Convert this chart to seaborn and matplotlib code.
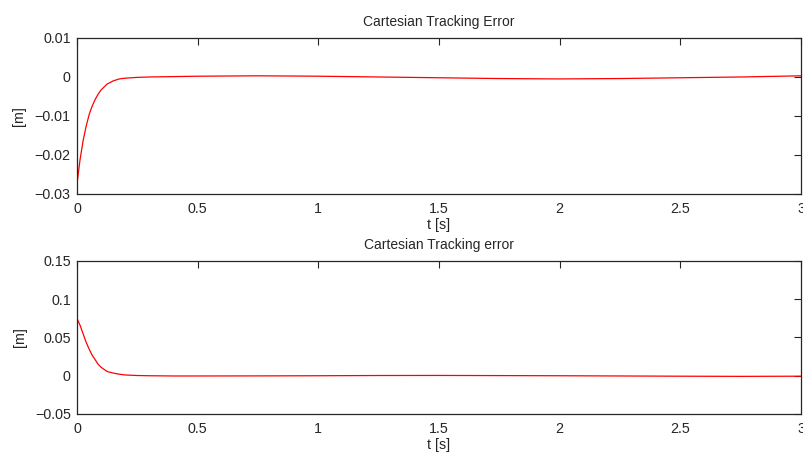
import matplotlib
matplotlib.use("Agg")
import matplotlib.pyplot as plt
import seaborn as sns
import pandas as pd

# time samples [s]
t = [0, 0.0125, 0.025, 0.0375, 0.05, 0.0625, 0.075, 0.0875, 0.1, 0.125, 0.15,
     0.175, 0.2, 0.25, 0.3, 0.4, 0.5, 0.75, 1.0, 1.25, 1.5, 1.75, 2.0, 2.25,
     2.5, 2.75, 3.0]

# tracking error, first plot [m]
err_top = [-0.0273, -0.0212, -0.0164, -0.0127, -0.0097, -0.0075, -0.0058,
           -0.0044, -0.0033, -0.0018, -0.0010, -0.0005, -0.0003, -0.0001,
           0.0, 0.0001, 0.0002, 0.0003, 0.0002, 0.0, -0.0002, -0.0004,
           -0.0005, -0.0004, -0.0002, 0.0, 0.0003]

# tracking error, second plot [m]
err_bot = [0.075, 0.066, 0.055, 0.044, 0.035, 0.027, 0.021, 0.015, 0.011,
           0.0055, 0.0035, 0.002, 0.001, 0.0003, 0.0, -0.0003, -0.0003,
           -0.0002, 0.0, 0.0003, 0.0004, 0.0002, 0.0, -0.0003, -0.0006,
           -0.0008, -0.0006]

top_yticks = [-0.03, -0.02, -0.01, 0, 0.01]
bot_yticks = [-0.05, 0, 0.05, 0.1, 0.15]
xticks = [0, 0.5, 1, 1.5, 2, 2.5, 3]

sns.set_style("white")
plt.rcParams['font.family'] = ['Liberation Sans', 'DejaVu Sans']
plt.rcParams['axes.unicode_minus'] = True

df = pd.DataFrame({"t": t, "top": err_top, "bot": err_bot})

fig = plt.figure(figsize=(8.04, 4.57), dpi=100)
ax1 = fig.add_axes([0.0958, 0.5755, 0.9005, 0.3414])
ax2 = fig.add_axes([0.0958, 0.0941, 0.9005, 0.3348])

panels = [
    (ax1, "top", "Cartesian Tracking Error", (-0.03, 0.01), top_yticks,
     ["\u22120.03", "\u22120.02", "\u22120.01", "0", "0.01"]),
    (ax2, "bot", "Cartesian Tracking error", (-0.05, 0.15), bot_yticks,
     ["\u22120.05", "0", "0.05", "0.1", "0.15"]),
]

for ax, col, title, ylim, yt, ytl in panels:
    sns.lineplot(data=df, x="t", y=col, ax=ax, color="red", linewidth=0.9)
    ax.set_xlim(0, 3)
    ax.set_ylim(*ylim)
    ax.set_xticks(xticks)
    ax.set_xticklabels(["0", "0.5", "1", "1.5", "2", "2.5", "3"])
    ax.set_yticks(yt)
    ax.set_yticklabels(ytl)
    ax.set_title(title, fontsize=10, pad=8.5)
    ax.set_xlabel("t [s]", fontsize=10.3, labelpad=1)
    ax.set_ylabel("[m]", fontsize=10.3, labelpad=6)
    ax.tick_params(direction="in", top=True, right=True, length=5,
                   width=0.8, labelsize=10.3, colors="#262626")
    ax.tick_params(axis="x", pad=6)
    ax.tick_params(axis="y", pad=4.5)
    for s in ax.spines.values():
        s.set_color("#262626")
        s.set_linewidth(0.9)

fig.savefig("out.png", dpi=100)
